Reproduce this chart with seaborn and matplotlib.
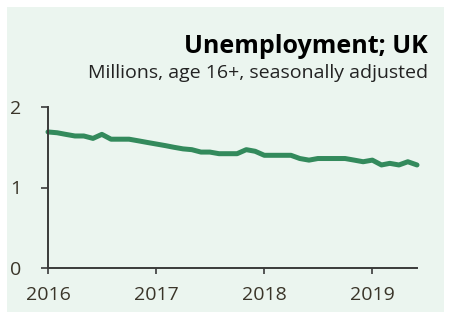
import pandas as pd
import matplotlib
matplotlib.use("Agg")
import matplotlib.pyplot as plt
from matplotlib.patches import Rectangle
import seaborn as sns

# monthly unemployment, millions (Jan 2016 - Jun 2019)
bulan = pd.date_range("2016-01-01", periods=42, freq="MS")
pengangguran = [1.69, 1.68, 1.66, 1.64, 1.64, 1.61, 1.66, 1.60, 1.60, 1.60,
                1.58, 1.56, 1.54, 1.52, 1.50, 1.48, 1.47, 1.44, 1.44, 1.42,
                1.42, 1.42, 1.47, 1.45, 1.40, 1.40, 1.40, 1.40, 1.36, 1.34,
                1.36, 1.36, 1.36, 1.36, 1.34, 1.32, 1.34, 1.28, 1.30, 1.28,
                1.32, 1.28]
label_tahun = ["2016", "2017", "2018", "2019"]
label_y = ["0", "1", "2"]

judul = "Unemployment; UK"
subjudul = "Millions, age 16+, seasonally adjusted"

df = pd.DataFrame({"bulan": bulan, "nilai": pengangguran})

sns.set_style("ticks")
plt.rcParams["font.family"] = ["Open Sans", "DejaVu Sans"]

warna_bg = "#ebf5ef"
warna_teks = "#3a3529"
warna_garis = "#338a5c"

fig = plt.figure(figsize=(4.49, 3.13), dpi=100)
fig.patch.set_facecolor("white")
fig.patches.append(Rectangle((7 / 449, 1 / 313), 437 / 449, 305 / 313,
                             transform=fig.transFigure, facecolor=warna_bg,
                             edgecolor="none", zorder=-5))

ax = fig.add_axes([48 / 449, 1 - 268 / 313, 369 / 449, 161 / 313])
ax.set_facecolor("none")
ax.set_zorder(2)

sns.lineplot(data=df, x="bulan", y="nilai", ax=ax, color=warna_garis,
             linewidth=3.6, clip_on=False)

ax.set_xlim(bulan[0], bulan[-1])
ax.set_ylim(0, 2)
ax.set_yticks([0, 1, 2])
ax.set_yticklabels(label_y)
ax.set_xticks(pd.to_datetime([t + "-01-01" for t in label_tahun]))
ax.set_xticklabels(label_tahun)

for s in ["top", "right"]:
    ax.spines[s].set_visible(False)
for s in ["left", "bottom"]:
    ax.spines[s].set_color("#3a3a3a")
    ax.spines[s].set_linewidth(1.4)

ax.tick_params(axis="y", length=5, width=1.2, color="#3a3a3a", pad=14,
               labelsize=14, labelcolor=warna_teks)
ax.tick_params(axis="x", length=4, width=1.2, color="#3a3a3a", pad=9,
               labelsize=14, labelcolor=warna_teks)
ax.set_xlabel("")
ax.set_ylabel("")

fig.text(428 / 449, 1 - 53 / 313, judul, ha="right", va="baseline",
         fontsize=18, fontweight="bold", color="black")
fig.text(428 / 449, 1 - 78 / 313, subjudul, ha="right", va="baseline",
         fontsize=14, color="#222222")

fig.savefig("out.png", dpi=100, facecolor=fig.get_facecolor())
